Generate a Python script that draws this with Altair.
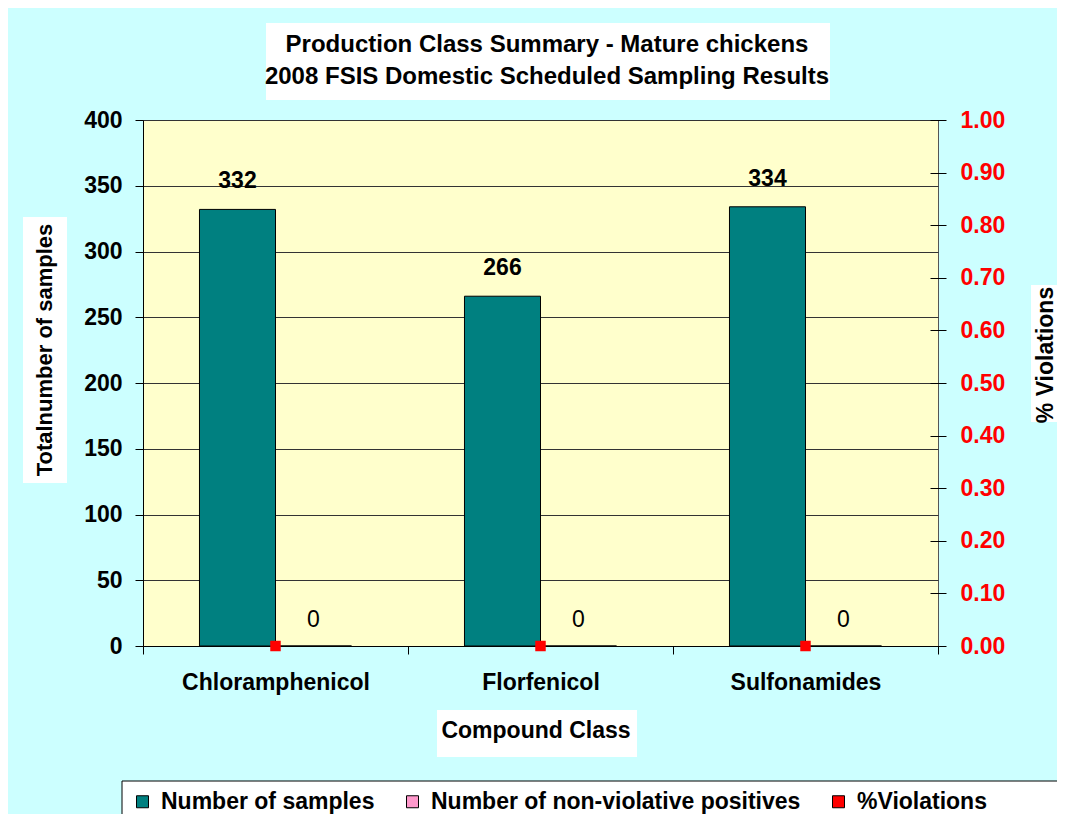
import altair as alt
import pandas as pd

# ---------------- data ----------------
categories = ["Chloramphenicol", "Florfenicol", "Sulfonamides"]
num_samples = [332, 266, 334]
non_violative = [0, 0, 0]
pct_violations = [0.0, 0.0, 0.0]

series_names = ["Number of samples", "Number of non-violative positives", "%Violations"]
series_colors = ["#008080", "#FF99CC", "#FF0000"]

left_ticks = [0, 50, 100, 150, 200, 250, 300, 350, 400]
right_ticks = [0.0, 0.1, 0.2, 0.3, 0.4, 0.5, 0.6, 0.7, 0.8, 0.9, 1.0]

title_lines = ["Production Class Summary - Mature chickens",
               "2008 FSIS Domestic Scheduled Sampling Results"]
x_title = "Compound Class"
y_title = "Totalnumber of samples"
y2_title = "% Violations"

FONT = "Liberation Sans"
FS = 23

bars_df = pd.DataFrame({
    "category": categories * 2,
    "series": [series_names[0]] * len(categories) + [series_names[1]] * len(categories),
    "value": num_samples + non_violative,
})
viol_df = pd.DataFrame({
    "category": categories,
    "series": [series_names[2]] * len(categories),
    "value": pct_violations,
})

# ---------------- shared encodings ----------------
x_enc = alt.X(
    "category:N", sort=categories,
    scale=alt.Scale(paddingInner=0, paddingOuter=0),
    axis=alt.Axis(title=None, labelFont=FONT, labelFontSize=FS, labelFontWeight="bold",
                  labelColor="black", labelAngle=0, labelPadding=17, tickBand="extent",
                  tickSize=8, tickColor="black", domainColor="black", grid=False,
                  labelLimit=0),
)
xoff_enc = alt.XOffset(
    "series:N", sort=series_names[:2],
    scale=alt.Scale(domain=series_names[:2], paddingInner=0, paddingOuter=0.743),
)
legend = alt.Legend(
    orient="none", legendX=-21, legendY=661, direction="horizontal", columns=3,
    title=None, symbolType="square", symbolSize=144, symbolStrokeColor="black",
    symbolStrokeWidth=1, symbolOpacity=1, labelFont=FONT, labelFontSize=FS,
    labelFontWeight="bold", labelColor="black", padding=9, labelOffset=7,
    columnPadding=26, labelLimit=0,
)
color_enc = alt.Color("series:N",
                      scale=alt.Scale(domain=series_names, range=series_colors),
                      legend=legend)

y_left_scale = alt.Scale(domain=[0, 400], nice=False, zero=True)
y_left_axis = alt.Axis(values=left_ticks, format="d", title=None, labelFont=FONT,
                       labelFontSize=FS, labelFontWeight="bold", labelColor="black",
                       labelPadding=13, tickSize=8, tickColor="black",
                       domainColor="black", grid=True, gridColor="#333333",
                       gridWidth=1, gridOpacity=1)

y_left = alt.Y("value:Q", scale=y_left_scale, axis=y_left_axis)

bars = alt.Chart(bars_df).mark_bar(stroke="black", strokeWidth=1, opacity=1).encode(
    x=x_enc,
    xOffset=xoff_enc,
    y=y_left,
    color=color_enc,
)

lbl_samples = alt.Chart(bars_df).transform_filter(
    alt.datum.series == series_names[0]
).mark_text(font=FONT, fontSize=FS, fontWeight="bold", baseline="alphabetic",
            dy=-21, color="black").encode(
    x=x_enc, xOffset=xoff_enc, y=y_left,
    text=alt.Text("value:Q"),
)
lbl_nvp = alt.Chart(bars_df).transform_filter(
    alt.datum.series == series_names[1]
).mark_text(font=FONT, fontSize=FS, fontWeight="normal", baseline="alphabetic",
            dy=-19, color="black").encode(
    x=x_enc, xOffset=xoff_enc, y=y_left,
    text=alt.Text("value:Q"),
)

left_layer = alt.layer(bars, lbl_samples, lbl_nvp)

squares = alt.Chart(viol_df).mark_square(size=110, opacity=1).encode(
    x=x_enc,
    y=alt.Y("value:Q", scale=alt.Scale(domain=[0, 1], nice=False),
            axis=alt.Axis(orient="right", values=right_ticks, format=".2f", title=None,
                          labelFont=FONT, labelFontSize=FS, labelFontWeight="bold",
                          labelColor="#FF0000", labelPadding=14, tickSize=16, offset=-8,
                          tickColor="black", domain=False, grid=False)),
    color=color_enc,
)

# ---------------- decorative title boxes and titles ----------------
one = pd.DataFrame({"t": [0]})


def box(x1, x2, y1, y2, **kw):
    return alt.Chart(one).mark_rect(color="white", **kw).encode(
        x=alt.value(x1), x2=alt.value(x2), y=alt.value(y1), y2=alt.value(y2))


def label(txt, x, y, angle=0, **kw):
    return alt.Chart(pd.DataFrame({"t": [txt]})).mark_text(
        font=FONT, fontWeight="bold", color="black", align="center",
        baseline="middle", angle=angle, **kw).encode(
        x=alt.value(x), y=alt.value(y), text="t:N")


deco = [
    box(123, 687, -97, -20),
    box(-120, -76, 97, 363),
    box(888, 914, 165, 302),
    box(294, 494, 590, 637),
    box(-21, 940, 661, 720, stroke="black", strokeWidth=1),
    alt.Chart(pd.DataFrame({"t": ["\n".join(title_lines)]})).mark_text(
        font=FONT, fontWeight="bold", fontSize=24, color="black", align="center",
        baseline="middle", lineBreak="\n", lineHeight=32).encode(
        x=alt.value(404), y=alt.value(-75), text="t:N"),
    label(y_title, -98, 230, angle=270, fontSize=22),
    label(y2_title, 903, 235, angle=270, fontSize=FS),
    label(x_title, 393, 611, fontSize=FS),
]

chart = alt.layer(*deco, left_layer, squares).resolve_scale(
    y="independent"
).properties(
    width=795, height=526,
    autosize=alt.AutoSizeParams(type="none"),
    padding={"left": 135, "top": 112, "right": 119, "bottom": 168},
    background="#CCFFFF",
).configure_view(
    fill="#FFFFCC", stroke="#555555", strokeWidth=1
)

chart.save("out.html", embed_options={"renderer": "svg", "actions": False})
